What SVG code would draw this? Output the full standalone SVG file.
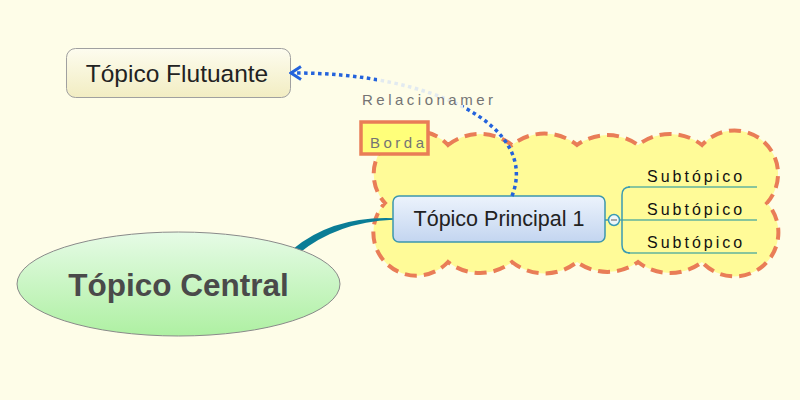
<svg xmlns="http://www.w3.org/2000/svg" width="800" height="400" viewBox="0 0 800 400">
<style>
text{font-family:"Liberation Sans",Arial,sans-serif}
.sub{font-size:16px;letter-spacing:3px;fill:#111}
.lbl{font-size:15px;letter-spacing:3.5px;fill:#747474}
.hline{stroke:#62b39c;stroke-width:1.5;fill:none}
</style>
<defs>
<linearGradient id="gFloat" x1="0" y1="0" x2="0" y2="1">
<stop offset="0" stop-color="#fdfcef"/><stop offset="1" stop-color="#f2edc2"/>
</linearGradient>
<linearGradient id="gMain" x1="0" y1="0" x2="0" y2="1">
<stop offset="0" stop-color="#ecf3fc"/><stop offset="1" stop-color="#c3d5f0"/>
</linearGradient>
<linearGradient id="gCentral" x1="0" y1="0" x2="0" y2="1">
<stop offset="0" stop-color="#e6fbe6"/><stop offset="1" stop-color="#aef0a2"/>
</linearGradient>
<marker id="arrow" viewBox="0 0 14 16" refX="12" refY="8" markerWidth="14" markerHeight="16" markerUnits="userSpaceOnUse" orient="auto">
<path d="M2,1.5 L12,8 L2,14.5" fill="none" stroke="#2463dc" stroke-width="3"/>
</marker>
<clipPath id="fadeClip"><rect x="377" y="60" width="86" height="50"/></clipPath>
</defs>
<rect width="800" height="400" fill="#fefde8"/>

<g id="boundary">
<path d="M448,145 A52,52 0 0 1 512,145 A52,52 0 0 1 577,145 A52,52 0 0 1 638,145 A52,52 0 0 1 702,145 A43,43 0 0 1 767,203 A43,43 0 0 1 702,262 A52,52 0 0 1 638,262 A52,52 0 0 1 577,262 A52,52 0 0 1 512,262 A52,52 0 0 1 448,262 A42,42 0 0 1 385,203 A42,42 0 0 1 448,145 Z" fill="#fffb98" stroke="#e97d57" stroke-width="4" stroke-dasharray="12 7"/>
</g>

<g id="connectors">
<path d="M293,249 Q333,216 393,218.2 L393,219.8 Q337,222 298,254 Z" fill="#0a7d96"/>
<line x1="605" y1="220" x2="609" y2="220" stroke="#3b9bb3" stroke-width="1.5"/>
<line x1="619" y1="220" x2="757" y2="220" class="hline"/>
<line x1="628" y1="187" x2="757" y2="187" class="hline"/>
<line x1="628" y1="253" x2="757" y2="253" class="hline"/>
<path d="M630,187 Q622,187 622,195 L622,245 Q622,253 630,253" fill="none" stroke="#3b9bb3" stroke-width="1.5"/>
</g>

<g id="central">
<ellipse cx="178.5" cy="284" rx="161.5" ry="52" fill="url(#gCentral)" stroke="#8a8a8a" stroke-width="1"/>
<text x="178.5" y="296" font-size="31.5" font-weight="bold" fill="#4a4a4a" text-anchor="middle">Tópico Central</text>
</g>

<g id="main1">
<rect x="393" y="196" width="212" height="46" rx="6" fill="url(#gMain)" stroke="#3d97ad" stroke-width="1.5"/>
<text x="499" y="226" font-size="21.5" fill="#222" text-anchor="middle">Tópico Principal 1</text>
<circle cx="614" cy="220" r="5.5" fill="#eef6fb" stroke="#3b9bb3" stroke-width="1.5"/>
<line x1="611" y1="220" x2="617" y2="220" stroke="#a8a8a8" stroke-width="2"/>
</g>

<g id="sub1"><text x="647" y="182" class="sub">Subtópico</text></g>
<g id="sub2"><text x="647" y="215" class="sub">Subtópico</text></g>
<g id="sub3"><text x="647" y="248" class="sub">Subtópico</text></g>

<g id="floating">
<rect x="66.5" y="48.5" width="224" height="49" rx="9" fill="url(#gFloat)" stroke="#a0a0a0" stroke-width="1"/>
<text x="177" y="82" font-size="24.5" fill="#222" text-anchor="middle">Tópico Flutuante</text>
</g>

<g id="relationship">
<path d="M512,196 C540,125 430,72 291,73" fill="none" stroke="#2463dc" stroke-width="3.5" stroke-dasharray="3.5 3.5" marker-end="url(#arrow)"/>
<path d="M512,196 C540,125 430,72 291,73" fill="none" stroke="#fefde8" stroke-width="5" clip-path="url(#fadeClip)"/>
<path d="M512,196 C540,125 430,72 291,73" fill="none" stroke="#e2eaf0" stroke-width="3.5" stroke-dasharray="3.5 3.5" clip-path="url(#fadeClip)"/>
<text x="362" y="105" class="lbl">Relacionamer</text>
</g>

<g id="borda">
<rect x="361" y="122" width="67" height="32" fill="#ffff7a" stroke="#e97d57" stroke-width="3.5"/>
<text x="370" y="148" class="lbl">Borda</text>
</g>
</svg>
